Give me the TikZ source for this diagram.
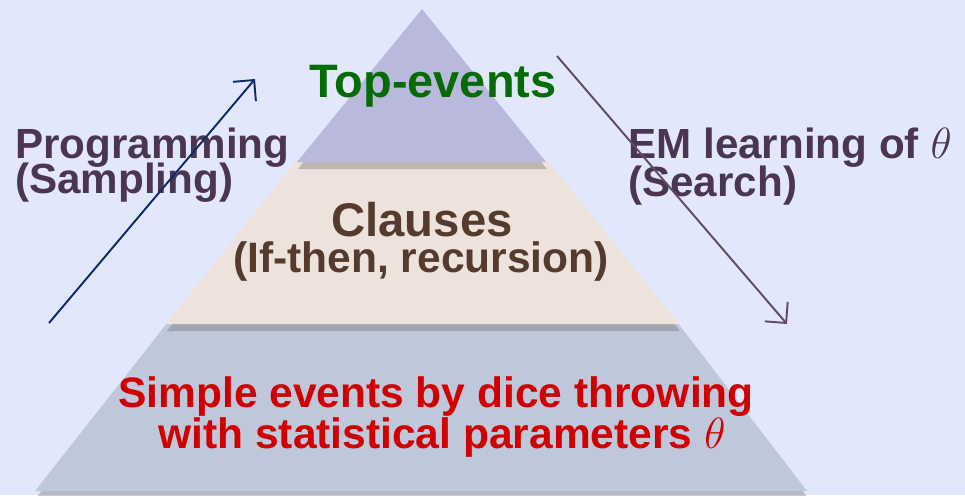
\documentclass[tikz,border=0pt]{standalone}
\usepackage{fontspec}
\setmainfont{Liberation Sans}
\usetikzlibrary{arrows.meta}
\usetikzlibrary{shadows}
\definecolor{bglav}{HTML}{E3E7FB}
\definecolor{toplav}{HTML}{B8B9DC}
\definecolor{midbeige}{HTML}{EDE2DC}
\definecolor{lowgray}{HTML}{BFC8DA}
\definecolor{topgreen}{HTML}{056B05}
\definecolor{clausebrown}{HTML}{553A2E}
\definecolor{dicered}{HTML}{D00000}
\definecolor{sidepurple}{HTML}{4B3650}
\definecolor{upnavy}{HTML}{0D2A6B}
\definecolor{downplum}{HTML}{5F4A6A}
\newcommand{\bigbf}[1]{\bfseries\fontsize{#1}{#1}\selectfont}

\begin{document}
\begin{tikzpicture}[x=0.02cm,y=-0.02cm,
    layer/.style={drop shadow={shadow xshift=0.5pt,shadow yshift=-4pt,opacity=0.35,fill=black!60}},
    sidetext/.style={font=\bigbf{24},color=sidepurple,anchor=base west,inner sep=0pt},
    tiptext/.style={anchor=base,inner sep=0pt},
    sweep/.style={line width=1.1pt,-{Straight Barb[length=3mm,width=6mm,line width=1.1pt]}}]
    \fill[bglav] (0,0) rectangle (965,495);
    \useasboundingbox (0,0) rectangle (965,495);

    \fill[lowgray,layer] (168,322) -- (677,322) -- (807,491) -- (35,491) -- cycle;
    \fill[midbeige,layer] (297,160) -- (547,160) -- (679,324) -- (166,324) -- cycle;
    \fill[toplav,layer] (422,9) -- (546,162) -- (297,162) -- cycle;

    \node[tiptext,font=\bigbf{26.7},color=topgreen] (topev) at (433,97) {Top-events};
    \node[tiptext,font=\bigbf{26.9},color=clausebrown] (clauses) at (422,236) {Clauses};
    \node[tiptext,font=\bigbf{24.2},color=clausebrown] (ifthen) at (421,272) {(If-then, recursion)};
    \node[tiptext,font=\bigbf{24.2},color=dicered] (simple) at (436,407) {Simple events by dice throwing};
    \node[tiptext,font=\bigbf{24.2},color=dicered] (params) at (442,448) {with statistical parameters $\theta$};

    \node[sidetext] (prog) at (15,158) {Programming};
    \node[sidetext] (sampling) at (15,193) {(Sampling)};
    \node[sidetext] (emlearn) at (628,158) {EM learning of $\theta$};
    \node[sidetext] (search) at (628,196) {(Search)};

    \coordinate (uptail) at (49,323);
    \coordinate (uphead) at (255,79);
    \coordinate (downtail) at (557,56);
    \coordinate (downhead) at (787,324);
    \draw[sweep,upnavy] (uptail) -- (uphead);
    \draw[sweep,downplum] (downtail) -- (downhead);
  \end{tikzpicture}
\end{document}
